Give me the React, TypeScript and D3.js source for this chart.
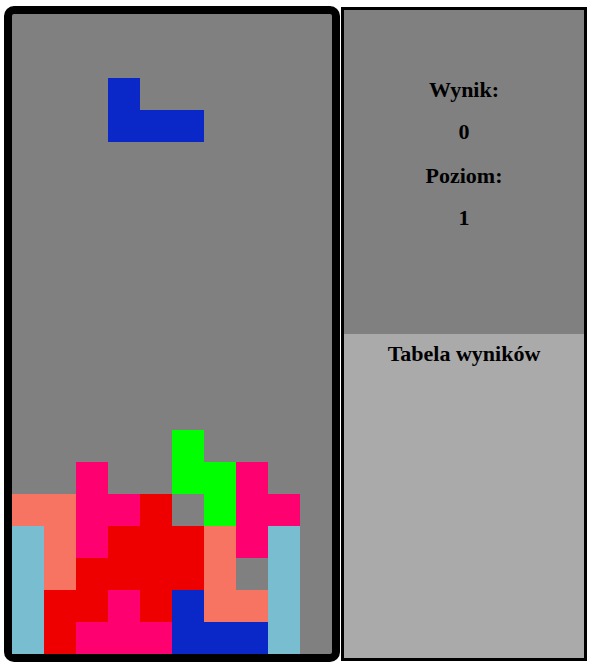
import React from "react";
import * as d3 from "d3";

const COLS = 10;
const ROWS = 20;

// board rows 13..19, '.' empty; letters map to colours
const stackRows = [
  ".....G....",
  "..P..GGP..",
  "SSPPR.GPP.",
  "BSPRRRSPB.",
  "BSRRRRS.B.",
  "BRRPRLSSB.",
  "BRPPPLLLB.",
];
const stackTop = 13;

// the falling piece: [col, row]
const falling: [number, number][] = [[3, 2], [3, 3], [4, 3], [5, 3]];

const colors: Record<string, string> = {
  G: "#00ff00",
  P: "#ff0070",
  S: "#f87462",
  R: "#ef0000",
  B: "#78bed0",
  L: "#0a28c8",
};

const infoLabels = ["Wynik:", "0", "Poziom:", "1"];

export default function App() {
  const x = d3.scaleLinear().domain([0, COLS]).range([12, 332]);
  const y = d3.scaleLinear().domain([0, ROWS]).range([14, 654]);

  const cells: { c: number; r: number; fill: string }[] = [];
  stackRows.forEach((row, i) =>
    row.split("").forEach((ch, c) => {
      if (ch !== ".") cells.push({ c, r: stackTop + i, fill: colors[ch] });
    })
  );
  falling.forEach(([c, r]) => cells.push({ c, r, fill: colors.L }));

  const infoY = [92, 134, 178, 220];

  return (
    <svg width={593} height={665} style={{ position: "absolute", left: 0, top: 0 }}>
      <rect x={8} y={10} width={328} height={648} rx={6} fill="#808080" stroke="#000" strokeWidth={8} />
      {cells.map((d, i) => (
        <rect key={i} x={x(d.c)} y={y(d.r)} width={x(1) - x(0)} height={y(1) - y(0)} fill={d.fill} />
      ))}
      <rect x={342.5} y={8.5} width={243} height={651} fill="#808080" stroke="#000" strokeWidth={3} />
      <rect x={344} y={334} width={240} height={324} fill="#aaaaaa" />
      {infoLabels.map((t, i) => (
        <text key={i} x={464} y={infoY[i]} textAnchor="middle" dominantBaseline="middle"
          fontFamily="Liberation Serif, serif" fontWeight="bold" fontSize={22}>{t}</text>
      ))}
      <text x={464} y={356} textAnchor="middle" dominantBaseline="middle"
        fontFamily="Liberation Serif, serif" fontWeight="bold" fontSize={22}>Tabela wyników</text>
    </svg>
  );
}
